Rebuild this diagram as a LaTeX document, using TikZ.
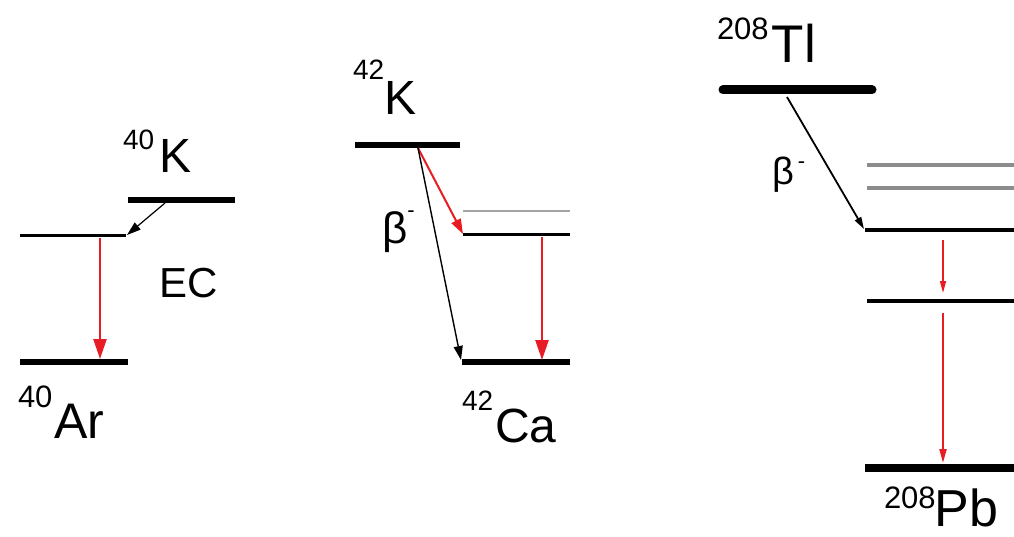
\documentclass[tikz,border=0pt]{standalone}
\usepackage{fontspec}
\setmainfont{Liberation Sans}
\usetikzlibrary{arrows.meta}
\definecolor{arrred}{RGB}{232,28,36}
\definecolor{lvlgray}{RGB}{140,140,140}
\definecolor{lightgray}{RGB}{165,165,165}
% #1 sup, #2 sup size, #3 raise, #4 kern, #5 main text, #6 main size
\newcommand{\isolabel}[6]{{\fontsize{#2}{#2}\selectfont\raisebox{#3}{#1}}\kern#4{\fontsize{#6}{#6}\selectfont #5}}
\newcommand{\betaminus}[4]{{\fontsize{#1}{#1}\selectfont β}\kern#4\raisebox{#3}{\fontsize{#2}{#2}\selectfont -}}
\tikzset{
  thicklvl/.style={line width=6pt},
  heavylvl/.style={line width=9pt, line cap=round},
  thinlvl/.style={line width=3pt},
  midlvl/.style={line width=4.5pt},
  graylvl/.style={line width=4pt, draw=lvlgray},
  lightlvl/.style={line width=2pt, draw=lightgray},
  gamma/.style={draw=arrred, line width=2.4pt, -{Triangle[length=20pt,width=13pt]}},
  smallgamma/.style={draw=arrred, line width=1.6pt, -{Triangle[length=12pt,width=6pt]}},
  redbeta/.style={draw=arrred, line width=2pt, -{Triangle[length=15pt,width=10pt]}},
  betaarrow/.style={draw=black, line width=1.4pt, -{Triangle[length=14pt,width=9pt]}},
  lbl/.style={anchor=base west, inner sep=0pt, outer sep=0pt},
}
\begin{document}
\begin{tikzpicture}[x=1pt,y=-1pt]
\useasboundingbox (0,0) rectangle (1014,537);
\fill[white] (0,0) rectangle (1014,537);
% ---------- panel 1: 40K ----------
\coordinate (k40a) at (128,200); \coordinate (k40b) at (235,200);
\coordinate (ar40m1) at (20,236); \coordinate (ar40m2) at (126,236);
\coordinate (ar40a) at (20,362); \coordinate (ar40b) at (128,362);
\draw[thicklvl] (k40a) -- (k40b);
\draw[thinlvl] (ar40m1) -- (ar40m2);
\draw[thicklvl] (ar40a) -- (ar40b);
\coordinate (ecs) at (165,203); \coordinate (ece) at (127,235);
\draw[betaarrow, line width=1.2pt] (ecs) -- (ece);
\coordinate (g1s) at (100,238); \coordinate (g1e) at (100,359);
\draw[gamma] (g1s) -- (g1e);
\node[lbl] (lk40) at (123,173) {\isolabel{40}{28}{23pt}{5pt}{K}{48}};
\node[lbl] (lar40) at (18,438) {\isolabel{40}{31}{31pt}{2pt}{Ar}{50}};
\node[lbl] (lec) at (159,298) {\fontsize{42}{42}\selectfont EC};
% ---------- panel 2: 42K ----------
\coordinate (k42a) at (355,145); \coordinate (k42b) at (460,145);
\coordinate (ca42g1) at (463,211); \coordinate (ca42g2) at (570,211);
\coordinate (ca42m1) at (463,235); \coordinate (ca42m2) at (570,235);
\coordinate (ca42a) at (462,362); \coordinate (ca42b) at (570,362);
\draw[thicklvl] (k42a) -- (k42b);
\draw[lightlvl] (ca42g1) -- (ca42g2);
\draw[thinlvl] (ca42m1) -- (ca42m2);
\draw[thicklvl] (ca42a) -- (ca42b);
\coordinate (b2s) at (418,148);
\coordinate (b2r) at (463,234);
\coordinate (b2g) at (461,360);
\draw[redbeta] (b2s) -- (b2r);
\draw[betaarrow] (b2s) -- (b2g);
\coordinate (g2s) at (542,237); \coordinate (g2e) at (542,360);
\draw[gamma] (g2s) -- (g2e);
\node[lbl] (lk42) at (353,115) {\isolabel{42}{28}{35pt}{0pt}{K}{48}};
\node[lbl] (lca42) at (462,442) {\isolabel{42}{28}{32pt}{2pt}{Ca}{48}};
\node[lbl] (lb2) at (382,244) {\betaminus{44}{22}{27pt}{0pt}};
% ---------- panel 3: 208Tl ----------
\coordinate (tla) at (723,90); \coordinate (tlb) at (872,90);
\coordinate (pbg1a) at (867,165); \coordinate (pbg1b) at (1014,165);
\coordinate (pbg2a) at (867,188); \coordinate (pbg2b) at (1014,188);
\coordinate (pbm1a) at (865,230); \coordinate (pbm1b) at (1014,230);
\coordinate (pbm2a) at (867,301); \coordinate (pbm2b) at (1014,301);
\coordinate (pba) at (865,468); \coordinate (pbb) at (1014,468);
\draw[heavylvl] (tla) -- (tlb);
\draw[graylvl] (pbg1a) -- (pbg1b);
\draw[graylvl] (pbg2a) -- (pbg2b);
\draw[midlvl] (pbm1a) -- (pbm1b);
\draw[midlvl] (pbm2a) -- (pbm2b);
\draw[line width=8pt] (pba) -- (pbb);
\coordinate (b3s) at (787,97); \coordinate (b3e) at (864,229);
\draw[betaarrow, line width=1.8pt, -{Triangle[length=12pt,width=7pt]}] (b3s) -- (b3e);
\coordinate (g3s) at (943,240); \coordinate (g3e) at (943,293);
\draw[smallgamma] (g3s) -- (g3e);
\coordinate (g4s) at (943,313); \coordinate (g4e) at (943,463);
\draw[smallgamma, line width=2pt, -{Triangle[length=14pt,width=7pt]}] (g4s) -- (g4e);
\node[lbl] (ltl) at (717,63) {\isolabel{208}{31}{23pt}{3pt}{Tl}{53}};
\node[lbl] (lpb) at (884,526) {\isolabel{208}{31}{18pt}{-1pt}{Pb}{52}};
\node[lbl] (lb3) at (772,185) {\betaminus{38}{22}{16pt}{4pt}};
\end{tikzpicture}
\end{document}
